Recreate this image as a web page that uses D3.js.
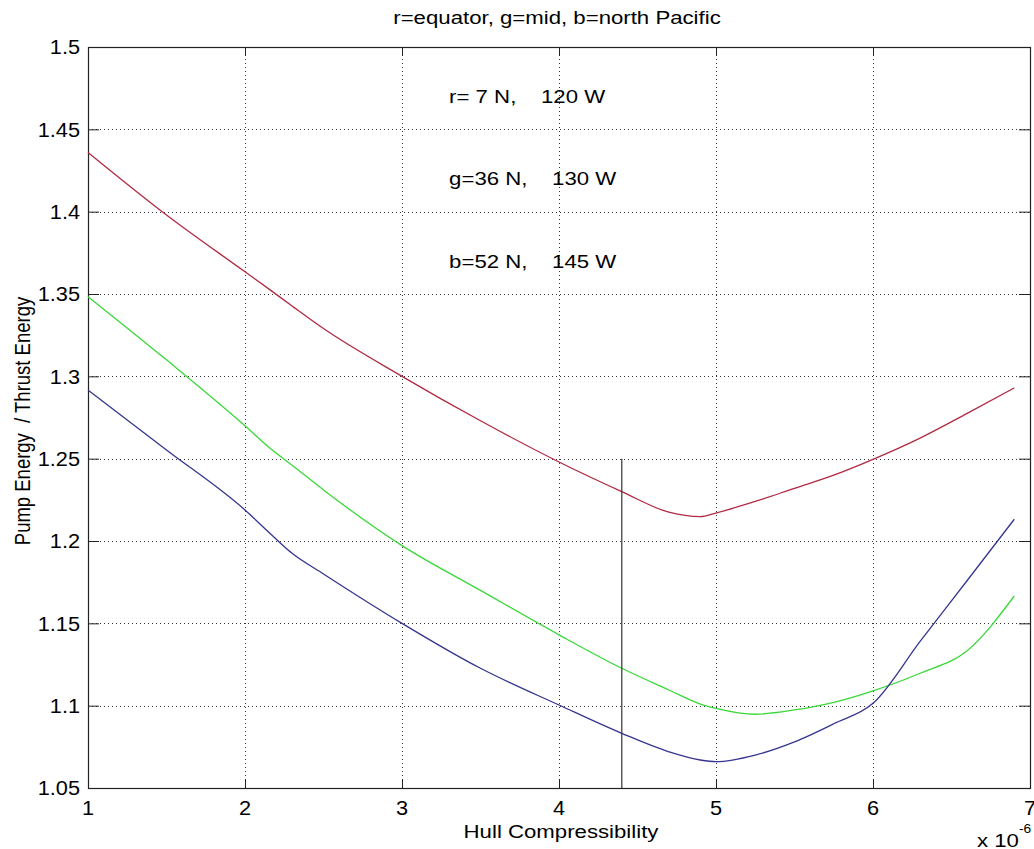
<!DOCTYPE html>
<html><head><meta charset="utf-8">
<script src="https://cdn.jsdelivr.net/npm/d3@7"></script>
<style>
body{margin:0;background:#fff}
svg{display:block}
text{font-family:"Liberation Sans",Arial,sans-serif;fill:#000;white-space:pre}
</style>
</head><body>
<svg id="c" width="1034" height="849"></svg>
<script>
// ---- data ----
const xValues     = [1, 1.5, 2, 2.16, 2.3, 2.5, 3, 3.5, 4, 4.4, 4.7, 4.9, 5, 5.25, 5.5, 5.75, 6, 6.3, 6.6, 6.9];
const redValues   = [1.436, 1.398, 1.3635, 1.3525, 1.3427, 1.329, 1.300, 1.273, 1.248, 1.230, 1.2175, 1.2148, 1.217, 1.224, 1.232, 1.240, 1.2496, 1.2625, 1.2775, 1.293];
const greenValues = [1.3484, 1.310, 1.270, 1.2563, 1.246, 1.231, 1.1972, 1.170, 1.143, 1.1227, 1.1095, 1.101, 1.0984, 1.0948, 1.0974, 1.102, 1.109, 1.1197, 1.1334, 1.1666];
const blueValues  = [1.2917, 1.2553, 1.2188, 1.2046, 1.1925, 1.180, 1.150, 1.1227, 1.1004, 1.0832, 1.072, 1.067, 1.066, 1.070, 1.078, 1.089, 1.1014, 1.139, 1.176, 1.2132];
const seriesColors = ["#b02a44", "#3ad83a", "#35358f"];
const xTicks = [1, 2, 3, 4, 5, 6, 7];
const xTickLabels = ["1", "2", "3", "4", "5", "6", "7"];
const yTicks = [1.05, 1.1, 1.15, 1.2, 1.25, 1.3, 1.35, 1.4, 1.45, 1.5];
const yTickLabels = ["1.05", "1.1", "1.15", "1.2", "1.25", "1.3", "1.35", "1.4", "1.45", "1.5"];
const markerX = [4.4, 4.4];
const markerY = [1.05, 1.25];
const noteX = [3.3, 3.3, 3.3];
const noteY = [1.47, 1.42, 1.37];
const noteText = ["r= 7 N,    120 W", "g=36 N,    130 W", "b=52 N,    145 W"];
const titleText = "r=equator, g=mid, b=north Pacific";
const xLabelText = "Hull Compressibility";
const yLabelText = "Pump Energy  / Thrust Energy";

// ---- layout ----
const L = 88, R = 1030, T = 47, B = 788;
const FS = 18.5, SX = 1.2;
const svg = d3.select("#c");
const x = d3.scaleLinear().domain([1, 7]).range([L, R]);
const y = d3.scaleLinear().domain([1.05, 1.5]).range([B, T]);

function txt(px, py, s, anchor, fs, sx, extra) {
  return svg.append("text")
    .attr("transform", `translate(${px},${py}) scale(${sx},1)` + (extra || ""))
    .attr("text-anchor", anchor)
    .style("font-size", fs + "px")
    .text(s);
}

// grid
const grid = svg.append("g").attr("stroke", "#333").attr("stroke-width", 1).attr("stroke-dasharray", "1,3");
grid.selectAll(".gx").data(xTicks.slice(1, -1)).enter().append("line")
  .attr("x1", d => Math.round(x(d)) + 0.5).attr("x2", d => Math.round(x(d)) + 0.5)
  .attr("y1", T).attr("y2", B);
grid.selectAll(".gy").data(yTicks.slice(1, -1)).enter().append("line")
  .attr("y1", d => Math.round(y(d)) + 0.5).attr("y2", d => Math.round(y(d)) + 0.5)
  .attr("x1", L).attr("x2", R);

// axes with inner ticks on all sides
function styleAxis(g) { g.select(".domain").remove(); g.selectAll("text").remove(); g.selectAll("line").attr("stroke", "#222"); }
svg.append("g").attr("transform", `translate(0,${B})`).call(d3.axisBottom(x).tickValues(xTicks).tickSize(-9).tickSizeOuter(0)).call(styleAxis);
svg.append("g").attr("transform", `translate(0,${T})`).call(d3.axisTop(x).tickValues(xTicks).tickSize(-9).tickSizeOuter(0)).call(styleAxis);
svg.append("g").attr("transform", `translate(${L},0)`).call(d3.axisLeft(y).tickValues(yTicks).tickSize(-11).tickSizeOuter(0)).call(styleAxis);
svg.append("g").attr("transform", `translate(${R},0)`).call(d3.axisRight(y).tickValues(yTicks).tickSize(-11).tickSizeOuter(0)).call(styleAxis);

// box
svg.append("rect").attr("x", L + 0.5).attr("y", T + 0.5).attr("width", R - L).attr("height", B - T)
  .attr("fill", "none").attr("stroke", "#222").attr("stroke-width", 1.2);

// series
const line = d3.line().x(d => x(d[0])).y(d => y(d[1])).curve(d3.curveMonotoneX);
[redValues, greenValues, blueValues].forEach((vals, i) => {
  svg.append("path").datum(xValues.map((xv, j) => [xv, vals[j]]))
    .attr("d", line).attr("fill", "none").attr("stroke", seriesColors[i]).attr("stroke-width", 1.3);
});

// marker vertical line
svg.append("line").attr("x1", x(markerX[0])).attr("x2", x(markerX[1]))
  .attr("y1", y(markerY[0])).attr("y2", y(markerY[1])).attr("stroke", "#333").attr("stroke-width", 1.2);

// tick labels
xTicks.forEach((d, i) => txt(x(d), 815, xTickLabels[i], "middle", 20.5, 1.06));
yTicks.forEach((d, i) => txt(80, y(d) + 7.3, yTickLabels[i], "end", 20.5, 1.06));

// notes
noteText.forEach((s, i) => txt(x(noteX[i]), y(noteY[i]) + 6.5, s, "start", FS, SX));

// title & labels
txt((L + R) / 2 - 2, 24, titleText, "middle", FS, SX);
txt((L + R) / 2 + 2, 838, xLabelText, "middle", FS, SX);
txt(30, 421, yLabelText, "middle", FS, SX, " rotate(-90)");
txt(977, 846.5, "x 10", "start", FS, SX);
txt(1019, 833, "-6", "start", 12.5, 1.1);
</script>
</body></html>
